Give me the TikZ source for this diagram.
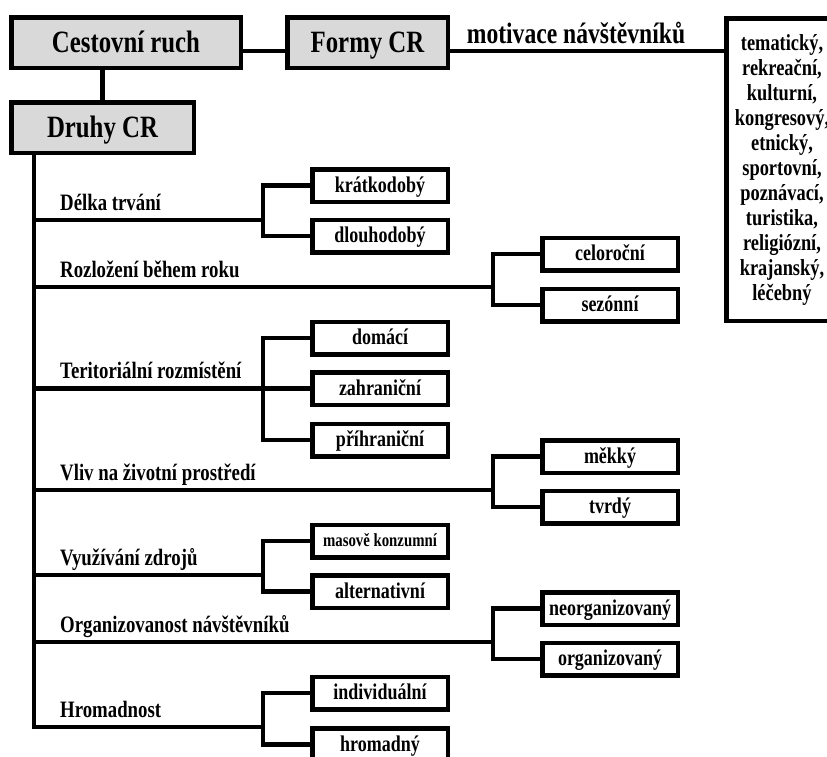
\documentclass[tikz,border=0pt]{standalone}
\usepackage{fontspec}
\setmainfont{Liberation Serif}
\newfontfamily\tnr{Liberation Serif}[FakeStretch=0.8]
\definecolor{boxgray}{HTML}{D9D9D9}
\begin{document}
\begin{tikzpicture}[x=1pt,y=-1pt,
  lw/.style={line width=4.5pt},
  mainbox/.style={draw, lw, fill=boxgray, inner sep=0pt, minimum height=50.5pt,
    font=\tnr\fontsize{31}{31}\selectfont\bfseries, text height=19.5pt, text depth=0pt},
  leaf/.style={draw, lw, fill=white, inner sep=0pt, minimum width=135.5pt, minimum height=32.5pt,
    font=\tnr\fontsize{22.5}{22.5}\selectfont\bfseries, text height=13pt, text depth=0pt},
  lbl/.style={anchor=base west, inner sep=0pt, font=\tnr\fontsize{23.5}{23.5}\selectfont\bfseries},
  conn/.style={lw, line join=miter}
]
\useasboundingbox (0,0) rectangle (827,756);
\clip (0,0) rectangle (827,756);

% main boxes
\node[mainbox, minimum width=229.5pt] (cr) at (126,42.5) {Cestovní ruch};
\node[mainbox, minimum width=160.5pt] (formy) at (367.5,42.5) {Formy CR};
\node[mainbox, minimum width=182.5pt] (druhy) at (102.5,127.5) {Druhy CR};

\node[draw, lw, fill=white, inner sep=0pt, minimum width=111.5pt, minimum height=302.5pt,
  align=center, font=\tnr\fontsize{23}{25}\selectfont\bfseries] (list) at (782,169.5)
  {tematický,\\rekreační,\\kulturní,\\kongresový,\\etnický,\\sportovní,\\poznávací,\\turistika,\\religiózní,\\krajanský,\\léčebný};

\draw[conn] ([yshift=-8.5pt]cr.east) -- ([yshift=-8.5pt]formy.west);
\draw[conn] (druhy.north) -- (druhy.north |- cr.south);
\draw[conn] ([yshift=-8.5pt]formy.east) -- ([yshift=-8.5pt]formy.east -| list.west);
\node[anchor=base, inner sep=0pt, font=\tnr\fontsize{29.5}{29.5}\selectfont\bfseries] (mot) at (576,43) {motivace návštěvníků};

% leaves, left column
\node[leaf] (kr) at (380,185.5) {krátkodobý};
\node[leaf] (dl) at (380,236) {dlouhodobý};
\node[leaf] (do) at (380,338) {domácí};
\node[leaf] (za) at (380,388.5) {zahraniční};
\node[leaf] (pr) at (380,440) {příhraniční};
\node[leaf, font=\tnr\fontsize{18.5}{18.5}\selectfont\bfseries, text height=11pt] (ma) at (380,541) {masově konzumní};
\node[leaf] (al) at (380,591.5) {alternativní};
\node[leaf] (in) at (380,693) {individuální};
\node[leaf] (hr) at (380,744.5) {hromadný};

% leaves, right column
\node[leaf] (ce) at (610,254) {celoroční};
\node[leaf] (se) at (610,305) {sezónní};
\node[leaf] (me) at (610,456.5) {měkký};
\node[leaf] (tv) at (610,507) {tvrdý};
\node[leaf] (ne) at (610,608.5) {neorganizovaný};
\node[leaf] (or) at (610,659) {organizovaný};

% junctions
\coordinate (t1) at (34,220);   \coordinate (j1) at (263,220);
\coordinate (t2) at (34,287);   \coordinate (j2) at (493,287);
\coordinate (t3) at (34,388.5); \coordinate (j3) at (263,388.5);
\coordinate (t4) at (34,490);   \coordinate (j4) at (493,490);
\coordinate (t5) at (34,575);   \coordinate (j5) at (263,575);
\coordinate (t6) at (34,642);   \coordinate (j6) at (493,642);
\coordinate (t7) at (34,727);   \coordinate (j7) at (263,727);

% trunk
\draw[conn] (druhy.south -| t7) -- (t7) -- (j7);
\draw[conn] (t1) -- (j1);
\draw[conn] (t2) -- (j2);
\draw[conn] (t3) -- (za.west);
\draw[conn] (t4) -- (j4);
\draw[conn] (t5) -- (j5);
\draw[conn] (t6) -- (j6);

% brackets
\draw[conn] (kr.west) -| (j1) |- (dl.west);
\draw[conn] (ce.west) -| (j2) |- (se.west);
\draw[conn] (do.west) -| (j3) |- (pr.west);
\draw[conn] (me.west) -| (j4) |- (tv.west);
\draw[conn] (ma.west) -| (j5) |- (al.west);
\draw[conn] (ne.west) -| (j6) |- (or.west);
\draw[conn] (in.west) -| (j7) |- (hr.west);

% labels
\node[lbl] (l1) at (60,210) {Délka trvání};
\node[lbl] (l2) at (60,277) {Rozložení během roku};
\node[lbl] (l3) at (60,378.5) {Teritoriální rozmístění};
\node[lbl] (l4) at (60,480) {Vliv na životní prostředí};
\node[lbl] (l5) at (60,565) {Využívání zdrojů};
\node[lbl] (l6) at (60,632) {Organizovanost návštěvníků};
\node[lbl] (l7) at (60,717) {Hromadnost};
\end{tikzpicture}
\end{document}
